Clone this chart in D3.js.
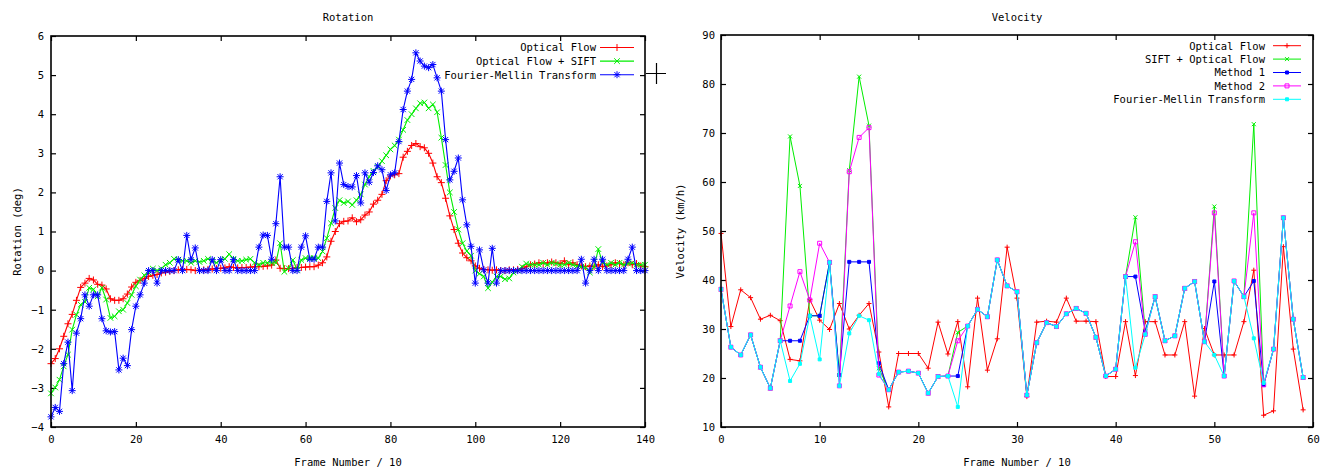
<!DOCTYPE html>
<html><head><meta charset="utf-8">
<script src="https://cdn.jsdelivr.net/npm/d3@7"></script>
<style>
body{margin:0;background:#fff}
svg{display:block}
text{font-family:"DejaVu Sans Mono",monospace;font-size:10.5px;fill:#000}
</style>
</head><body>
<svg id="c" width="1330" height="470"></svg>
<script>
// ---------------- Rotation panel data (frame index 0..140) ----------------
const rotOF = [-2.38,-2.25,-2.0,-1.68,-1.36,-1.12,-0.76,-0.43,-0.32,-0.2,
 -0.24,-0.35,-0.37,-0.47,-0.72,-0.76,-0.76,-0.72,-0.6,-0.42,
 -0.3,-0.25,-0.2,-0.15,-0.12,-0.1,-0.06,-0.04,-0.02,0.0,
 0.02,0.03,0.03,0.02,0.0,0.01,0.02,0.03,0.04,0.05,
 0.06,0.07,0.1,0.08,0.07,0.08,0.08,0.09,0.1,0.1,
 0.11,0.12,0.14,0.27,0.06,0.05,0.05,0.06,0.08,0.08,
 0.09,0.1,0.1,0.14,0.2,0.35,0.75,1.0,1.2,1.26,
 1.27,1.35,1.25,1.3,1.42,1.5,1.7,1.8,1.95,2.3,
 2.42,2.45,2.48,2.9,3.05,3.2,3.25,3.17,3.14,3.0,
 2.75,2.4,2.25,1.85,1.4,1.05,0.7,0.45,0.33,0.25,
 0.12,0.06,0.03,0.02,0.01,0.02,0.0,0.0,0.02,0.02,
 0.03,0.05,0.1,0.15,0.17,0.2,0.18,0.2,0.22,0.2,
 0.18,0.25,0.15,0.2,0.15,0.12,0.1,0.12,0.1,0.15,
 0.1,0.12,0.15,0.2,0.18,0.15,0.2,0.15,0.18,0.12,0.1];
const rotOFSIFT = [-3.14,-2.99,-2.79,-2.45,-2.15,-1.51,-1.13,-0.87,-0.8,-0.44,
 -0.48,-0.66,-0.44,-0.74,-1.21,-1.17,-1.04,-1.0,-0.83,-0.62,
 -0.4,-0.23,-0.12,-0.05,0.05,0.0,0.05,0.15,0.2,0.3,
 0.28,0.25,0.25,0.2,0.25,0.22,0.25,0.3,0.25,0.2,
 0.28,0.3,0.42,0.3,0.25,0.25,0.28,0.3,0.2,0.15,
 0.2,0.2,0.2,0.2,0.7,-0.03,0.06,0.27,0.02,0.27,
 0.32,0.32,0.32,0.32,0.49,0.83,1.21,1.6,1.8,1.73,
 1.77,1.68,1.8,1.95,2.2,2.4,2.55,2.65,2.8,2.95,
 3.1,3.2,3.35,3.6,3.85,4.0,4.15,4.28,4.3,4.15,
 4.25,4.05,3.4,2.7,2.0,1.5,1.05,0.7,0.5,0.38,
 0.0,-0.08,-0.15,-0.45,-0.3,-0.15,-0.15,-0.22,-0.2,-0.05,
 0.0,0.1,0.18,0.15,0.15,0.15,0.2,0.15,0.2,0.18,
 0.15,0.15,0.2,0.15,0.12,0.1,0.08,-0.05,0.1,0.55,
 0.2,0.15,0.2,0.15,0.2,0.15,0.18,0.2,0.15,0.15,0.15];
const rotFMT = [-3.74,-3.5,-3.6,-2.38,-1.83,-3.07,-1.6,-1.23,-0.62,-0.91,
 -0.62,-0.62,-1.23,-1.54,-1.57,-1.56,-2.54,-2.24,-2.43,-1.51,
 -0.91,-0.62,-0.32,0,0,-0.32,0,0,0,0,
 0.28,0,0.9,0.28,0.58,0,0,0,0.28,0,
 0.28,0,0,0.28,0,0,0,0,0,0.6,
 0.91,0.9,0.29,1.2,2.4,0.6,0.6,0,0,0.6,
 0.89,0.29,0.29,0.6,0.6,1.77,2.5,1.27,2.75,2.2,
 2.15,2.14,2.43,1.73,2.5,2.26,2.51,2.68,2.58,2.05,
 2.45,2.5,3.3,4.12,4.59,4.89,5.57,5.36,5.23,5.19,
 5.27,4.93,4.59,3.35,2.32,2.54,2.88,1.81,1.17,0.62,
 -0.32,0.53,0.02,-0.32,0.57,-0.32,0,0,0,0,
 0,0,0,0,0,0,0,0,0,0,
 0,0,0,0,0,0.29,-0.32,0,0.29,0,
 0.29,0,0,0,0,0,0.29,0.6,0,0,0];
const rotXTicks = [0,20,40,60,80,100,120,140];
const rotYTicks = [-4,-3,-2,-1,0,1,2,3,4,5,6];

// ---------------- Velocity panel data (frame index 0..59) ----------------
const velOF = [49.5,30.5,38.0,36.4,32.0,32.8,31.7,23.8,23.5,36.0,
 31.8,29.9,35.2,30.0,32.8,35.2,25.3,14.1,25.0,25.0,
 25.0,22.0,31.4,24.9,31.5,18.2,36.3,21.6,28.0,46.7,
 36.3,16.2,31.4,31.6,31.4,36.3,31.6,31.6,31.5,20.3,
 20.3,31.5,20.5,31.5,31.5,24.7,24.7,31.5,16.3,30.1,
 24.7,24.7,24.7,31.5,42.0,12.4,13.3,46.8,25.9,13.5];
const velSIFTOF = [38.1,26.3,24.7,28.8,22.2,17.9,27.6,69.3,59.2,32.7,
 32.7,43.6,20.6,62.4,81.5,71.5,22.0,17.6,21.2,21.4,
 21.0,16.9,20.3,20.4,29.3,30.6,34.0,32.5,44.1,38.8,
 37.6,16.5,27.2,31.3,30.5,33.1,34.2,33.2,28.3,20.4,
 21.8,40.7,52.8,29.5,36.6,27.6,28.6,38.3,39.7,27.4,
 55.0,20.4,39.8,36.6,71.8,18.6,25.9,52.7,32.0,20.1];
const velM1 = [38.1,26.3,24.7,28.8,22.2,17.9,27.6,27.6,27.6,32.7,
 32.7,43.6,20.6,43.7,43.7,43.7,23.0,17.6,21.2,21.4,
 21.0,16.9,20.3,20.4,20.4,30.6,34.0,32.5,44.1,38.8,
 37.6,16.5,27.2,31.3,30.5,33.1,34.2,33.2,28.3,20.4,
 21.8,40.7,40.7,29.5,36.6,27.6,28.6,38.3,39.7,27.4,
 39.7,20.4,39.8,36.6,39.8,18.6,25.9,52.7,32.0,20.1];
const velM2 = [38.1,26.3,24.7,28.8,22.2,17.9,27.6,34.7,41.7,35.9,
 47.5,43.6,18.4,62.1,69.1,71.1,20.6,17.6,21.2,21.4,
 21.0,16.9,20.3,20.4,27.6,30.6,34.0,32.5,44.1,38.8,
 37.6,16.5,27.2,31.3,30.5,33.1,34.2,33.2,28.3,20.4,
 21.8,40.7,47.8,28.9,36.6,27.6,28.6,38.3,39.7,27.4,
 53.7,20.4,39.8,36.6,53.7,18.6,25.9,52.7,32.0,20.1];
const velFMT = [38.1,26.3,24.7,28.8,22.2,17.9,27.6,19.4,22.9,32.7,
 23.8,43.6,18.4,29.1,32.7,31.8,20.8,17.6,21.2,21.4,
 21.0,16.9,20.3,20.4,14.1,30.6,34.0,32.5,44.1,38.8,
 37.6,16.5,27.2,31.3,30.5,33.1,34.2,33.2,28.3,20.4,
 21.8,40.7,22.1,28.9,36.6,27.6,28.6,38.3,39.7,27.4,
 24.7,20.4,39.8,36.6,28.1,19.0,25.9,52.7,32.0,20.1];
const velXTicks = [0,10,20,30,40,50,60];
const velYTicks = [10,20,30,40,50,60,70,80,90];

// ---------------- drawing ----------------
const svg = d3.select('#c');
const FONT = '"DejaVu Sans Mono", monospace';

const markers = {
  plus: s => `M${-s},0H${s}M0,${-s}V${s}`,
  times: s => `M${-s},${-s}L${s},${s}M${-s},${s}L${s},${-s}`,
  star: s => `M${-s},0H${s}M0,${-s}V${s}M${-s*0.75},${-s*0.75}L${s*0.75},${s*0.75}M${-s*0.75},${s*0.75}L${s*0.75},${-s*0.75}`,
  square: s => `M${-s},${-s}H${s}V${s}H${-s}Z`
};

function panel(cfg) {
  const g = svg.append('g');
  const x = d3.scaleLinear().domain(cfg.xDomain).range([cfg.left, cfg.right]);
  const y = d3.scaleLinear().domain(cfg.yDomain).range([cfg.bottom, cfg.top]);

  const ax = (axis, tr, labels) => {
    const a = g.append('g').attr('transform', tr).call(axis);
    a.attr('font-family', FONT).attr('font-size', 10.5);
    a.select('.domain').remove();
    a.selectAll('line').attr('stroke', '#000').attr('stroke-width', 1.2);
    if (!labels) a.selectAll('text').remove();
  };
  ax(d3.axisBottom(x).tickValues(cfg.xTicks).tickSize(-5).tickPadding(9), `translate(0,${cfg.bottom})`, true);
  ax(d3.axisTop(x).tickValues(cfg.xTicks).tickSize(-5), `translate(0,${cfg.top})`, false);
  ax(d3.axisLeft(y).tickValues(cfg.yTicks).tickSize(-5).tickPadding(cfg.yPad), `translate(${cfg.left},0)`, true);
  ax(d3.axisRight(y).tickValues(cfg.yTicks).tickSize(-5), `translate(${cfg.right},0)`, false);

  // series
  cfg.series.forEach(s => {
    const line = d3.line().x((d, i) => x(i)).y(d => y(d));
    g.append('path').attr('d', line(s.values)).attr('fill', 'none')
      .attr('stroke', s.color).attr('stroke-width', s.lw).attr('stroke-linejoin', 'round');
    g.selectAll(null).data(s.values).enter().append('path')
      .attr('transform', (d, i) => `translate(${x(i)},${y(d)})`)
      .attr('d', markers[s.marker](s.size))
      .attr('fill', s.fill ? s.color : 'none')
      .attr('stroke', s.color).attr('stroke-width', 1);
  });

  // frame
  g.append('rect').attr('x', cfg.left).attr('y', cfg.top)
    .attr('width', cfg.right - cfg.left).attr('height', cfg.bottom - cfg.top)
    .attr('fill', 'none').attr('stroke', '#000').attr('stroke-width', 1.6);

  // titles
  const cx = (cfg.left + cfg.right) / 2;
  g.append('text').attr('x', cx).attr('y', 20.5).attr('text-anchor', 'middle').text(cfg.title);
  g.append('text').attr('x', cx).attr('y', 466).attr('text-anchor', 'middle').text(cfg.xLabel);
  g.append('text').attr('transform', `translate(${cfg.yLabelX},${(cfg.top + cfg.bottom) / 2}) rotate(-90)`)
    .attr('text-anchor', 'middle').text(cfg.yLabel);

  // legend
  cfg.series.forEach((s, k) => {
    const ry = cfg.legY + k * cfg.legStep;
    g.append('text').attr('x', cfg.legTextX).attr('y', ry + 3.8).attr('text-anchor', 'end').text(s.name);
    g.append('line').attr('x1', cfg.legX1).attr('x2', cfg.legX2).attr('y1', ry).attr('y2', ry)
      .attr('stroke', s.color).attr('stroke-width', s.lw);
    g.append('path').attr('transform', `translate(${(cfg.legX1 + cfg.legX2) / 2},${ry})`)
      .attr('d', markers[s.marker](s.size))
      .attr('fill', s.fill ? s.color : 'none').attr('stroke', s.color).attr('stroke-width', 1);
  });
  return g;
}

panel({
  left: 51, right: 645, top: 36, bottom: 427,
  xDomain: [0, 140], yDomain: [-4, 6], xTicks: rotXTicks, yTicks: rotYTicks, yPad: 7,
  title: 'Rotation', xLabel: 'Frame Number / 10', yLabel: 'Rotation (deg)', yLabelX: 21,
  legTextX: 596, legX1: 600, legX2: 634, legY: 47.5, legStep: 13.6,
  series: [
    {name: 'Optical Flow', values: rotOF, color: '#ff0000', marker: 'plus', size: 3.5, lw: 1.1},
    {name: 'Optical Flow + SIFT', values: rotOFSIFT, color: '#00ee00', marker: 'times', size: 2.8, lw: 1.1},
    {name: 'Fourier-Mellin Transform', values: rotFMT, color: '#0000ff', marker: 'star', size: 3.5, lw: 1.1}
  ]
});

panel({
  left: 721, right: 1313, top: 35, bottom: 427,
  xDomain: [0, 60], yDomain: [10, 90], xTicks: velXTicks, yTicks: velYTicks, yPad: 6,
  title: 'Velocity', xLabel: 'Frame Number / 10', yLabel: 'Velocity (km/h)', yLabelX: 684,
  legTextX: 1265, legX1: 1273, legX2: 1301, legY: 45.7, legStep: 13.4,
  series: [
    {name: 'Optical Flow', values: velOF, color: '#ff0000', marker: 'plus', size: 2.5, lw: 1},
    {name: 'SIFT + Optical Flow', values: velSIFTOF, color: '#00ee00', marker: 'times', size: 2, lw: 1},
    {name: 'Method 1', values: velM1, color: '#0000ff', marker: 'square', size: 1.5, fill: true, lw: 1},
    {name: 'Method 2', values: velM2, color: '#ff00ff', marker: 'square', size: 2, lw: 1},
    {name: 'Fourier-Mellin Transform', values: velFMT, color: '#00ffff', marker: 'square', size: 1.5, fill: true, lw: 1}
  ]
});

// cursor cross shown next to the rotation legend
svg.append('path').attr('d', 'M646,73.5H666M656.5,63V84').attr('stroke', '#000').attr('stroke-width', 1.2).attr('fill', 'none');
</script>
</body></html>
